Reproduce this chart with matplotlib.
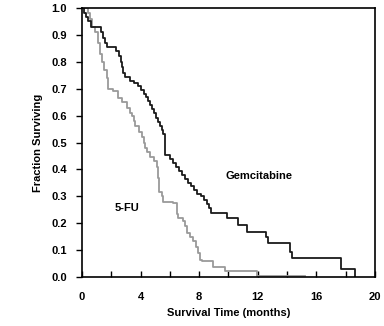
import numpy as np
import matplotlib.pyplot as plt
from matplotlib.ticker import MultipleLocator

plt.rcParams["font.family"] = ["Liberation Sans", "DejaVu Sans"]
plt.rcParams["font.weight"] = "bold"

# Gemcitabine Kaplan-Meier steps (months, fraction surviving)
gem_t = [0, 0.14, 0.27, 0.41, 0.61, 1.30, 1.43, 1.57, 1.71, 2.32, 2.53, 2.66,
         2.73, 2.80, 2.94, 3.28, 3.55, 3.82, 4.03, 4.23, 4.37, 4.51, 4.64, 4.78,
         4.91, 5.05, 5.19, 5.32, 5.46, 5.53, 5.67, 5.70, 6.01, 6.21, 6.42, 6.62,
         6.83, 7.03, 7.24, 7.44, 7.65, 7.85, 8.12, 8.33, 8.53, 8.67, 8.81, 9.90,
         10.65, 11.26, 12.56, 12.70, 14.20, 14.33, 17.68, 18.63]
gem_s = [1.0, 0.98, 0.965, 0.95, 0.93, 0.91, 0.89, 0.87, 0.855, 0.84, 0.82, 0.80,
         0.78, 0.76, 0.745, 0.73, 0.72, 0.71, 0.695, 0.68, 0.67, 0.655, 0.64, 0.625,
         0.61, 0.59, 0.575, 0.56, 0.545, 0.53, 0.50, 0.455, 0.44, 0.425, 0.41, 0.395,
         0.38, 0.365, 0.35, 0.34, 0.325, 0.31, 0.30, 0.285, 0.27, 0.255, 0.24, 0.219,
         0.193, 0.167, 0.149, 0.126, 0.093, 0.071, 0.030, 0.0]

# 5-FU Kaplan-Meier steps
fu_t = [0, 0.41, 0.55, 0.68, 0.89, 1.09, 1.23, 1.37, 1.50, 1.71, 1.77, 2.12, 2.46,
        2.73, 3.07, 3.28, 3.41, 3.55, 3.62, 3.89, 4.10, 4.23, 4.30, 4.44, 4.64,
        4.91, 5.12, 5.19, 5.26, 5.46, 5.53, 6.21, 6.48, 6.55, 6.89, 7.03, 7.17,
        7.37, 7.58, 7.78, 7.92, 8.05, 8.19, 8.94, 9.76, 11.95, 15.2]
fu_s = [1.0, 0.98, 0.96, 0.93, 0.91, 0.87, 0.83, 0.80, 0.77, 0.74, 0.70, 0.69, 0.665,
        0.65, 0.63, 0.61, 0.60, 0.58, 0.56, 0.54, 0.52, 0.50, 0.48, 0.465, 0.446,
        0.43, 0.41, 0.37, 0.316, 0.30, 0.28, 0.275, 0.235, 0.22, 0.21, 0.19, 0.163,
        0.15, 0.135, 0.11, 0.09, 0.065, 0.06, 0.037, 0.022, 0.005, 0.005]

fig = plt.figure(figsize=(3.84, 3.26), dpi=100)
ax = fig.add_axes([0.2135, 0.150, 0.763, 0.8255])

ax.step(fu_t, fu_s, where="post", color="#9a9a9a", lw=1.3)
ax.step(gem_t, gem_s, where="post", color="#1a1a1a", lw=1.3)

ax.text(12.1, 0.375, "Gemcitabine", ha="center", va="center", fontsize=8, fontweight="bold")
ax.text(3.1, 0.255, "5-FU", ha="center", va="center", fontsize=8, fontweight="bold")

ax.set_xlim(0, 20)
ax.set_ylim(0, 1.0)
ax.xaxis.set_major_locator(MultipleLocator(4))
ax.xaxis.set_minor_locator(MultipleLocator(2))
ax.yaxis.set_major_locator(MultipleLocator(0.1))
ax.yaxis.set_major_formatter(plt.FormatStrFormatter("%.1f"))
ax.tick_params(axis="x", which="both", direction="in", length=4, width=1, labelsize=8, pad=11)
ax.tick_params(axis="y", direction="out", length=4, width=1, labelsize=8, pad=7)
for sp in ax.spines.values():
    sp.set_linewidth(1.2)

ax.set_xlabel("Survival Time (months)", fontsize=8, fontweight="bold", labelpad=4)
ax.set_ylabel("Fraction Surviving", fontsize=8, fontweight="bold", labelpad=6)

fig.savefig("out.png", dpi=100)
